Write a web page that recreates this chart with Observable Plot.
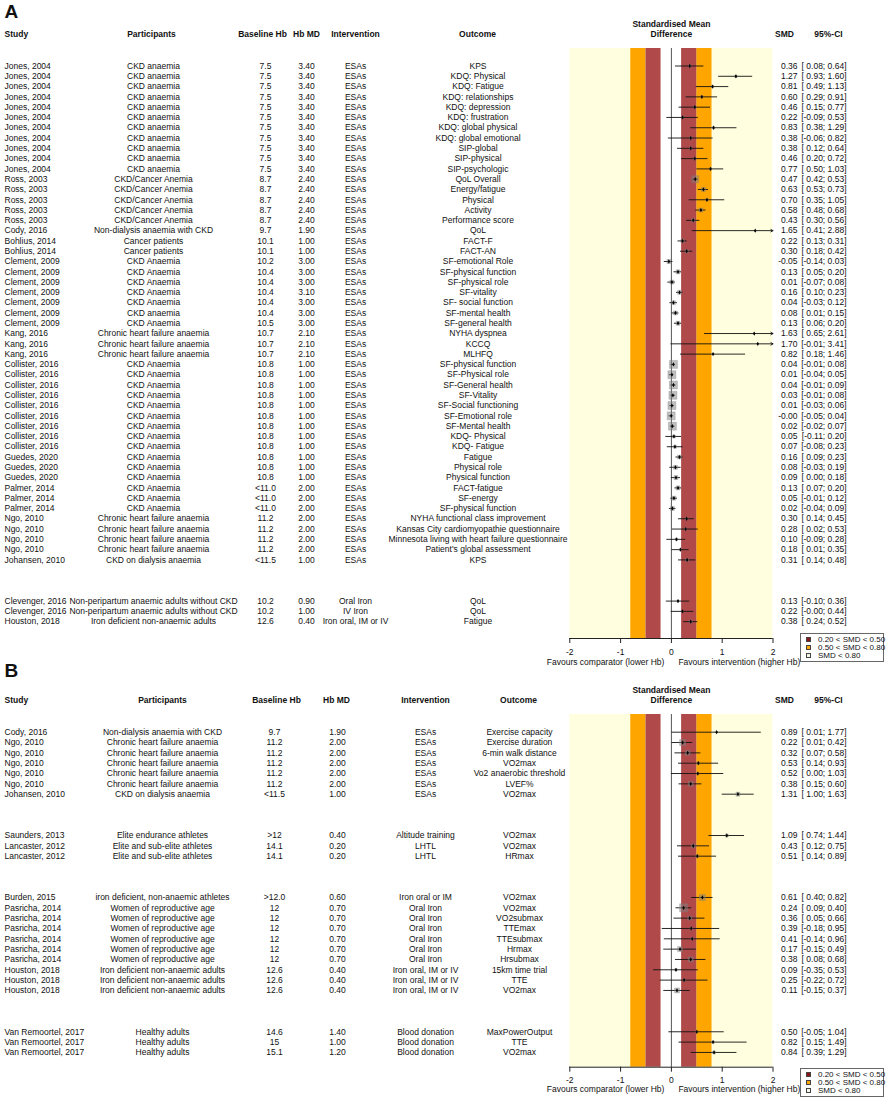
<!DOCTYPE html>
<html><head><meta charset="utf-8">
<script src="https://cdn.jsdelivr.net/npm/d3@7"></script>
<script src="https://cdn.jsdelivr.net/npm/@observablehq/plot@0.6"></script>
<style>
body{margin:0;background:#fff;font-family:"Liberation Sans",Arial,sans-serif;}
#page{position:relative;width:886px;height:1102px;overflow:hidden;background:#fff;}
.panel{position:absolute;left:0;}
.legend{position:absolute;left:800px;width:84px;height:29px;border:1px solid #666;background:#fff;font-size:8px;box-sizing:border-box;display:flex;flex-direction:column;justify-content:center;padding-left:5px;color:#111;}
.legend .item{display:flex;align-items:center;white-space:nowrap;height:8.3px;}
.legend .sw{display:inline-block;flex:none;width:5px;height:5px;margin-right:7px;box-sizing:border-box;border:0.6px solid #444;}
</style></head><body><div id="page"></div><script>
// ---------------- Panel A data ----------------
const studyA = ["Jones, 2004","Jones, 2004","Jones, 2004","Jones, 2004","Jones, 2004","Jones, 2004","Jones, 2004","Jones, 2004","Jones, 2004","Jones, 2004","Jones, 2004",
"Ross, 2003","Ross, 2003","Ross, 2003","Ross, 2003","Ross, 2003","Cody, 2016","Bohlius, 2014","Bohlius, 2014",
"Clement, 2009","Clement, 2009","Clement, 2009","Clement, 2009","Clement, 2009","Clement, 2009","Clement, 2009",
"Kang, 2016","Kang, 2016","Kang, 2016",
"Collister, 2016","Collister, 2016","Collister, 2016","Collister, 2016","Collister, 2016","Collister, 2016","Collister, 2016","Collister, 2016","Collister, 2016",
"Guedes, 2020","Guedes, 2020","Guedes, 2020","Palmer, 2014","Palmer, 2014","Palmer, 2014",
"Ngo, 2010","Ngo, 2010","Ngo, 2010","Ngo, 2010","Johansen, 2010",
"Clevenger, 2016","Clevenger, 2016","Houston, 2018"];
const participantsA = ["CKD anaemia","CKD anaemia","CKD anaemia","CKD anaemia","CKD anaemia","CKD anaemia","CKD anaemia","CKD anaemia","CKD anaemia","CKD anaemia","CKD anaemia",
"CKD/Cancer Anemia","CKD/Cancer Anemia","CKD/Cancer Anemia","CKD/Cancer Anemia","CKD/Cancer Anemia","Non-dialysis anaemia with CKD","Cancer patients","Cancer patients",
"CKD Anaemia","CKD Anaemia","CKD Anaemia","CKD Anaemia","CKD Anaemia","CKD anaemia","CKD Anaemia",
"Chronic heart failure anaemia","Chronic heart failure anaemia","Chronic heart failure anaemia",
"CKD Anaemia","CKD Anaemia","CKD Anaemia","CKD Anaemia","CKD Anaemia","CKD Anaemia","CKD Anaemia","CKD Anaemia","CKD Anaemia",
"CKD Anaemia","CKD Anaemia","CKD Anaemia","CKD Anaemia","CKD Anaemia","CKD Anaemia",
"Chronic heart failure anaemia","Chronic heart failure anaemia","Chronic heart failure anaemia","Chronic heart failure anaemia","CKD on dialysis anaemia",
"Non-peripartum anaemic adults without CKD","Non-peripartum anaemic adults without CKD","Iron deficient non-anaemic adults"];
const baselineA = ["7.5","7.5","7.5","7.5","7.5","7.5","7.5","7.5","7.5","7.5","7.5",
"8.7","8.7","8.7","8.7","8.7","9.7","10.1","10.1",
"10.2","10.4","10.4","10.4","10.4","10.4","10.5",
"10.7","10.7","10.7",
"10.8","10.8","10.8","10.8","10.8","10.8","10.8","10.8","10.8",
"10.8","10.8","10.8","<11.0","<11.0","<11.0",
"11.2","11.2","11.2","11.2","<11.5",
"10.2","10.2","12.6"];
const hbmdA = [3.4,3.4,3.4,3.4,3.4,3.4,3.4,3.4,3.4,3.4,3.4,
2.4,2.4,2.4,2.4,2.4,1.9,1.0,1.0,
3.0,3.0,3.0,3.1,3.0,3.0,3.0,
2.1,2.1,2.1,
1.0,1.0,1.0,1.0,1.0,1.0,1.0,1.0,1.0,
1.0,1.0,1.0,2.0,2.0,2.0,
2.0,2.0,2.0,2.0,1.0,
0.9,1.0,0.4];
const interventionA = ["ESAs","ESAs","ESAs","ESAs","ESAs","ESAs","ESAs","ESAs","ESAs","ESAs","ESAs",
"ESAs","ESAs","ESAs","ESAs","ESAs","ESAs","ESAs","ESAs",
"ESAs","ESAs","ESAs","ESAs","ESAs","ESAs","ESAs",
"ESAs","ESAs","ESAs",
"ESAs","ESAs","ESAs","ESAs","ESAs","ESAs","ESAs","ESAs","ESAs",
"ESAs","ESAs","ESAs","ESAs","ESAs","ESAs",
"ESAs","ESAs","ESAs","ESAs","ESAs",
"Oral Iron","IV Iron","Iron oral, IM or IV"];
const outcomeA = ["KPS","KDQ: Physical","KDQ: Fatigue","KDQ: relationships","KDQ: depression","KDQ: frustration","KDQ: global physical","KDQ: global emotional","SIP-global","SIP-physical","SIP-psychologic",
"QoL Overall","Energy/fatigue","Physical","Activity","Performance score","QoL","FACT-F","FACT-AN",
"SF-emotional Role","SF-physical function","SF-physical role","SF-vitality","SF- social function","SF-mental health","SF-general health",
"NYHA dyspnea","KCCQ","MLHFQ",
"SF-physical function","SF-Physical role","SF-General health","SF-Vitality","SF-Social functioning","SF-Emotional role","SF-Mental health","KDQ- Physical","KDQ- Fatigue",
"Fatigue","Physical role","Physical function","FACT-fatigue","SF-energy","SF-physical function",
"NYHA functional class improvement","Kansas City cardiomyopathie questionnaire","Minnesota living with heart failure questionnaire","Patient's global assessment","KPS",
"QoL","QoL","Fatigue"];
const smdA = [0.36,1.27,0.81,0.60,0.46,0.22,0.83,0.38,0.38,0.46,0.77,
0.47,0.63,0.70,0.58,0.43,1.65,0.22,0.30,
-0.05,0.13,0.01,0.16,0.04,0.08,0.13,
1.63,1.70,0.82,
0.04,0.01,0.04,0.03,0.01,-0.004,0.02,0.05,0.07,
0.16,0.08,0.09,0.13,0.05,0.02,
0.30,0.28,0.10,0.18,0.31,
0.13,0.22,0.38];
const lowerA = [0.08,0.93,0.49,0.29,0.15,-0.09,0.38,-0.06,0.12,0.20,0.50,
0.42,0.53,0.35,0.48,0.30,0.41,0.13,0.18,
-0.14,0.05,-0.07,0.10,-0.03,0.01,0.06,
0.65,-0.01,0.18,
-0.01,-0.04,-0.01,-0.01,-0.03,-0.05,-0.02,-0.11,-0.08,
0.09,-0.03,0.00,0.07,-0.01,-0.04,
0.14,0.02,-0.09,0.01,0.14,
-0.10,-0.004,0.24];
const upperA = [0.64,1.60,1.13,0.91,0.77,0.53,1.29,0.82,0.64,0.72,1.03,
0.53,0.73,1.05,0.68,0.56,2.88,0.31,0.42,
0.03,0.20,0.08,0.23,0.12,0.15,0.20,
2.61,3.41,1.46,
0.08,0.05,0.09,0.08,0.06,0.04,0.07,0.20,0.23,
0.23,0.19,0.18,0.20,0.12,0.09,
0.45,0.53,0.28,0.35,0.48,
0.36,0.44,0.52];
const weightA = [6,6,6,6,6,6,6,6,6,6,6,
49,16,6,16,12,2,12,12,
16,16,16,16,16,16,16,
2,2,2,
64,64,64,64,64,64,64,9,9,
16,16,16,16,16,16,
6,6,6,6,9,
4,4,9];
const groupA = [0,0,0,0,0,0,0,0,0,0,0, 0,0,0,0,0,0,0,0, 0,0,0,0,0,0,0, 0,0,0,
0,0,0,0,0,0,0,0,0, 0,0,0,0,0,0, 0,0,0,0,0, 1,1,1];

// ---------------- Panel B data ----------------
const studyB = ["Cody, 2016","Ngo, 2010","Ngo, 2010","Ngo, 2010","Ngo, 2010","Ngo, 2010","Johansen, 2010",
"Saunders, 2013","Lancaster, 2012","Lancaster, 2012",
"Burden, 2015","Pasricha, 2014","Pasricha, 2014","Pasricha, 2014","Pasricha, 2014","Pasricha, 2014","Pasricha, 2014","Houston, 2018","Houston, 2018","Houston, 2018",
"Van Remoortel, 2017","Van Remoortel, 2017","Van Remoortel, 2017"];
const participantsB = ["Non-dialysis anaemia with CKD","Chronic heart failure anaemia","Chronic heart failure anaemia","Chronic heart failure anaemia","Chronic heart failure anaemia","Chronic heart failure anaemia","CKD on dialysis anaemia",
"Elite endurance athletes","Elite and sub-elite athletes","Elite and sub-elite athletes",
"iron deficient, non-anaemic athletes","Women of reproductive age","Women of reproductive age","Women of reproductive age","Women of reproductive age","Women of reproductive age","Women of reproductive age","Iron deficient non-anaemic adults","Iron deficient non-anaemic adults","Iron deficient non-anaemic adults",
"Healthy adults","Healthy adults","Healthy adults"];
const baselineB = ["9.7","11.2","11.2","11.2","11.2","11.2","<11.5",
">12","14.1","14.1",
">12.0","12","12","12","12","12","12","12.6","12.6","12.6",
"14.6","15","15.1"];
const hbmdB = [1.9,2.0,2.0,2.0,2.0,2.0,1.0,
0.4,0.2,0.2,
0.6,0.7,0.7,0.7,0.7,0.7,0.7,0.4,0.4,0.4,
1.4,1.0,1.2];
const interventionB = ["ESAs","ESAs","ESAs","ESAs","ESAs","ESAs","ESAs",
"Altitude training","LHTL","LHTL",
"Iron oral or IM","Oral Iron","Oral Iron","Oral Iron","Oral Iron","Oral Iron","Oral Iron","Iron oral, IM or IV","Iron oral, IM or IV","Iron oral, IM or IV",
"Blood donation","Blood donation","Blood donation"];
const outcomeB = ["Exercise capacity","Exercise duration","6-min walk distance","VO2max","Vo2 anaerobic threshold","LVEF%","VO2max",
"VO2max","VO2max","HRmax",
"VO2max","VO2max","VO2submax","TTEmax","TTEsubmax","Hrmax","Hrsubmax","15km time trial","TTE","VO2max",
"MaxPowerOutput","TTE","VO2max"];
const smdB = [0.89,0.22,0.32,0.53,0.52,0.38,1.31,
1.09,0.43,0.51,
0.61,0.24,0.36,0.39,0.41,0.17,0.38,0.09,0.25,0.11,
0.50,0.82,0.84];
const lowerB = [0.01,0.01,0.07,0.14,0.00,0.15,1.00,
0.74,0.12,0.14,
0.40,0.09,0.05,-0.18,-0.14,-0.15,0.08,-0.35,-0.22,-0.15,
-0.05,0.15,0.39];
const upperB = [1.77,0.42,0.58,0.93,1.03,0.60,1.63,
1.44,0.75,0.89,
0.82,0.40,0.66,0.95,0.96,0.49,0.68,0.53,0.72,0.37,
1.04,1.49,1.29];
const weightB = [2,36,25,9,6,25,16,
9,16,9,
36,64,16,6,6,25,25,6,6,25,
6,6,9];
const groupB = [0,0,0,0,0,0,0, 1,1,1, 2,2,2,2,2,2,2,2,2,2, 3,3,3];

const xTicks = [-2,-1,0,1,2];
const smallBands = [[-0.5,-0.2],[0.2,0.5]];
const mediumBands = [[-0.8,-0.5],[0.5,0.8]];
const legendLabels = ["0.20 < SMD < 0.50","0.50 < SMD < 0.80","SMD < 0.80"];
const legendColors = ["#8b1515","#ffa500","#f7f7e8"];

function buildRows(s, p, b, h, iv, o, smd, lo, hi, w, g) {
  return s.map((d, i) => ({
    study: d, participants: p[i], baseline: b[i], hbmd: h[i].toFixed(2),
    intervention: iv[i], outcome: o[i], smd: smd[i], lower: lo[i], upper: hi[i],
    weight: w[i], row: i + g[i] * 3,
    smdText: smd[i].toFixed(2),
    ciText: "[" + (lo[i] < 0 ? lo[i].toFixed(2) : " " + lo[i].toFixed(2)) + "; " + hi[i].toFixed(2) + "]"
  }));
}
const rowsA = buildRows(studyA, participantsA, baselineA, hbmdA, interventionA, outcomeA, smdA, lowerA, upperA, weightA, groupA);
const rowsB = buildRows(studyB, participantsB, baselineB, hbmdB, interventionB, outcomeB, smdB, lowerB, upperB, weightB, groupB);

const FONT = '"Liberation Sans", Arial, sans-serif';

function panel(rows, L) {
  const rowAt = py => (py - L.row0) / L.step;
  const yDomain = [rowAt(L.frameTop), rowAt(L.frameBottom)];
  const colMarks = L.cols.map(c => Plot.text(rows, {
    y: "row", text: c.key, frameAnchor: "left", dx: c.px, textAnchor: c.anchor, fill: "#111"
  }));
  const headMarks = L.heads.map(h => Plot.text([h.label], {
    y: rowAt(L.headY), frameAnchor: "left", dx: h.px, textAnchor: h.anchor, fontWeight: "bold", fill: "#111"
  }));
  return Plot.plot({
    width: 886, height: L.height,
    marginLeft: 0, marginRight: 0, marginTop: L.frameTop, marginBottom: L.height - L.frameBottom,
    x: {domain: [-2, 2], range: [569.3, 772.5], axis: null},
    y: {domain: yDomain, reverse: true, axis: null},
    r: {type: "sqrt", domain: [0, 64], range: [0, 4.5]},
    style: {fontFamily: FONT, fontSize: "8.5px", background: "transparent", overflow: "visible", color: "#111"},
    marks: [
      Plot.rect([[-2, 2]], {x1: d => d[0], x2: d => d[1], fill: "#ffffe0"}),
      Plot.rect(mediumBands, {x1: d => d[0], x2: d => d[1], fill: "#ffa500"}),
      Plot.rect(smallBands, {x1: d => d[0], x2: d => d[1], fill: "#b04a4a"}),
      Plot.rect([[-0.2, 0.2]], {x1: d => d[0], x2: d => d[1], fill: "#ffffff"}),
      Plot.ruleX([0], {stroke: "#555", strokeWidth: 1}),
      Plot.ruleY([yDomain[1]], {x1: -2, x2: 2, stroke: "#222"}),
      Plot.axisX(xTicks, {tickSize: 5, tickPadding: 5, tickFormat: d => String(d), stroke: "#222"}),
      Plot.text(["Favours comparator (lower Hb)"], {x: 0, frameAnchor: "bottom", dy: L.favDy, dx: -7, textAnchor: "end", fill: "#111"}),
      Plot.text(["Favours intervention (higher Hb)"], {x: 0, frameAnchor: "bottom", dy: L.favDy, dx: 7, textAnchor: "start", fill: "#111"}),
      Plot.ruleY(rows.filter(d => d.upper <= 2), {y: "row", x1: "lower", x2: "upper", stroke: "#111", strokeWidth: 0.9}),
      Plot.arrow(rows.filter(d => d.upper > 2), {x1: "lower", x2: 2, y1: "row", y2: "row", stroke: "#111", strokeWidth: 0.9, headLength: 4}),
      Plot.dot(rows, {x: "smd", y: "row", r: "weight", symbol: "square", fill: "#808080", fillOpacity: 0.5, stroke: "#808080", strokeOpacity: 0.6, strokeWidth: 0.5}),
      Plot.dot(rows, {x: "smd", y: "row", r: 1.3, symbol: "diamond", fill: "#000"}),
      ...colMarks,
      ...headMarks,
      Plot.text(["Standardised Mean"], {x: 0, y: rowAt(L.title1Y), fontWeight: "bold", fill: "#111"}),
      Plot.text(["Difference"], {x: 0, y: rowAt(L.headY), fontWeight: "bold", fill: "#111"}),
      Plot.text([L.letter], {y: rowAt(L.letterY), frameAnchor: "left", dx: 4, textAnchor: "start", fontSize: 19, fontWeight: "bold", fill: "#111"})
    ]
  });
}

const layoutA = {
  letter: "A", height: 672, frameTop: 48, frameBottom: 638, row0: 65.5, step: 10.29,
  headY: 34, title1Y: 24, letterY: 11, favDy: 26,
  cols: [
    {key: "study", px: 4, anchor: "start"},
    {key: "participants", px: 153, anchor: "middle"},
    {key: "baseline", px: 265, anchor: "middle"},
    {key: "hbmd", px: 306, anchor: "middle"},
    {key: "intervention", px: 355, anchor: "middle"},
    {key: "outcome", px: 477.5, anchor: "middle"},
    {key: "smdText", px: 797, anchor: "end"},
    {key: "ciText", px: 846, anchor: "end"}
  ],
  heads: [
    {label: "Study", px: 4, anchor: "start"},
    {label: "Participants", px: 151, anchor: "middle"},
    {label: "Baseline Hb", px: 262, anchor: "middle"},
    {label: "Hb MD", px: 306, anchor: "middle"},
    {label: "Intervention", px: 355, anchor: "middle"},
    {label: "Outcome", px: 477, anchor: "middle"},
    {label: "SMD", px: 784, anchor: "middle"},
    {label: "95%-CI", px: 828, anchor: "middle"}
  ]
};
const layoutB = {
  letter: "B", height: 442, frameTop: 54, frameBottom: 406.7, row0: 71.7, step: 10.33,
  headY: 40, title1Y: 30, letterY: 10.5, favDy: 25,
  cols: [
    {key: "study", px: 4, anchor: "start"},
    {key: "participants", px: 162, anchor: "middle"},
    {key: "baseline", px: 274, anchor: "middle"},
    {key: "hbmd", px: 337, anchor: "middle"},
    {key: "intervention", px: 425, anchor: "middle"},
    {key: "outcome", px: 519, anchor: "middle"},
    {key: "smdText", px: 797, anchor: "end"},
    {key: "ciText", px: 846, anchor: "end"}
  ],
  heads: [
    {label: "Study", px: 4, anchor: "start"},
    {label: "Participants", px: 162, anchor: "middle"},
    {label: "Baseline Hb", px: 276, anchor: "middle"},
    {label: "Hb MD", px: 336, anchor: "middle"},
    {label: "Intervention", px: 425, anchor: "middle"},
    {label: "Outcome", px: 518, anchor: "middle"},
    {label: "SMD", px: 784, anchor: "middle"},
    {label: "95%-CI", px: 828, anchor: "middle"}
  ]
};

const page = document.getElementById("page");
function addPanel(rows, L, top, legendTop) {
  const div = document.createElement("div");
  div.className = "panel";
  div.style.top = top + "px";
  div.appendChild(panel(rows, L));
  page.appendChild(div);
  const lg = document.createElement("div");
  lg.className = "legend";
  lg.style.top = legendTop + "px";
  legendLabels.forEach((label, i) => {
    const item = document.createElement("div");
    item.className = "item";
    const sw = document.createElement("span");
    sw.className = "sw";
    sw.style.background = legendColors[i];
    item.appendChild(sw);
    item.appendChild(document.createTextNode(label));
    lg.appendChild(item);
  });
  page.appendChild(lg);
}
addPanel(rowsA, layoutA, 0, 633);
addPanel(rowsB, layoutB, 660, 1068);
</script></body></html>
